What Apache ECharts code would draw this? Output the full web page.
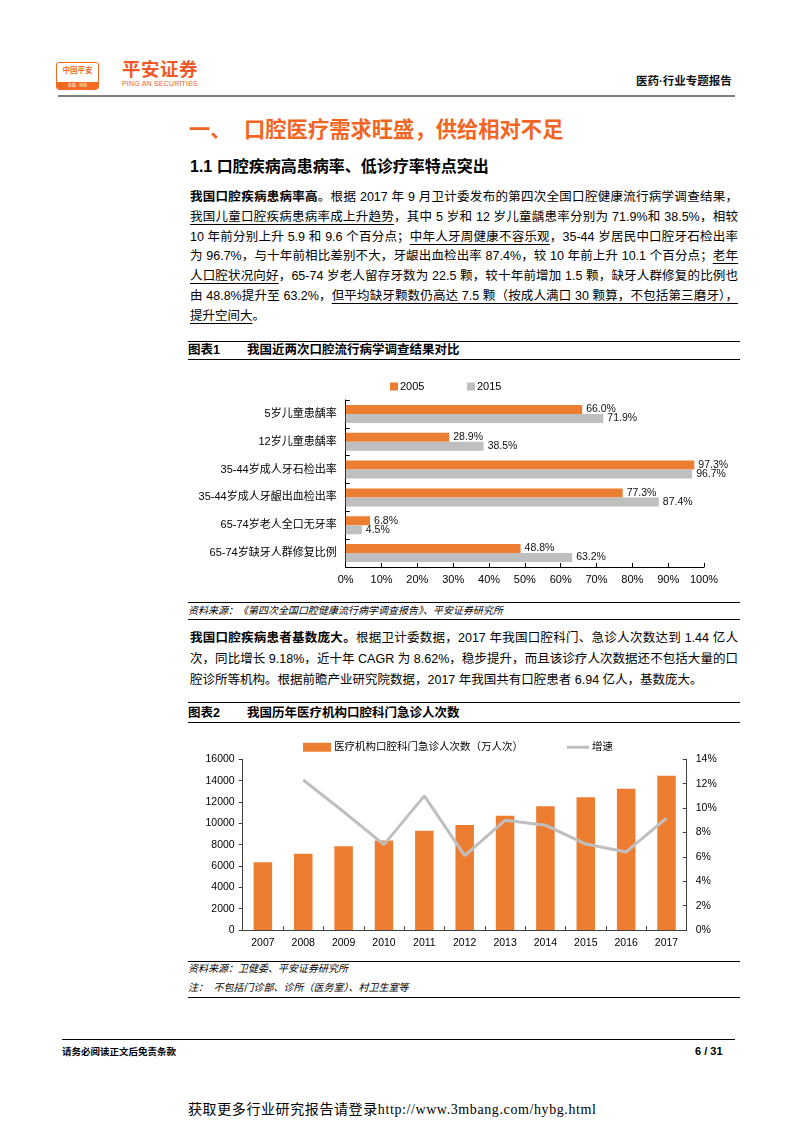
<!DOCTYPE html>
<html>
<head>
<meta charset="utf-8">
<script src="https://cdn.jsdelivr.net/npm/echarts@6/dist/echarts.min.js"></script>
<style>
  html,body{margin:0;padding:0;background:#fff;}
  body{width:793px;height:1122px;position:relative;overflow:hidden;
       font-family:"Liberation Sans","Noto Sans CJK SC",sans-serif;color:#000;}
  .abs{position:absolute;white-space:nowrap;}
  .hl{position:absolute;height:0;}
  .pl{position:absolute;left:190px;width:548px;height:20px;line-height:20px;font-size:12.5px;
      text-align:justify;text-align-last:justify;overflow:hidden;}
  .pl.last{text-align-last:left;}
  .pl u{text-decoration:underline;text-underline-offset:3px;text-decoration-thickness:1px;}
  .pl b{font-weight:700;}
  .figt{position:absolute;font-size:12.5px;font-weight:700;line-height:16px;}
  .src{position:absolute;left:188px;font-size:10px;font-style:italic;line-height:14px;}
</style>
</head>
<body>
<!-- header -->
<div class="abs" style="left:56px;top:62px;width:41px;height:26px;border:1.3px solid #F26B21;border-radius:3px;overflow:hidden;">
  <div style="position:absolute;left:0;top:3px;width:41px;text-align:center;font-size:7.5px;font-weight:700;color:#F26B21;line-height:10px;">中国平安</div>
  <div style="position:absolute;left:0;bottom:0;width:41px;height:7px;background:#F26B21;color:#fff;font-size:4px;line-height:7px;text-align:center;">金融 · 科技</div>
</div>
<div class="abs" style="left:122px;top:60px;font-size:18.5px;font-weight:700;color:#F05A28;line-height:20px;letter-spacing:0.5px;">平安证券</div>
<div class="abs" style="left:122px;top:80px;font-size:7px;color:#F05A28;line-height:8px;letter-spacing:0.2px;">PING AN SECURITIES</div>
<div class="abs" style="left:636px;top:73px;font-size:11.5px;font-weight:700;line-height:16px;color:#111;">医药·行业专题报告</div>
<div class="hl" style="left:58px;top:95px;width:677px;border-top:2px solid #7f7f7f;"></div>

<!-- section titles -->
<div class="abs" style="left:189px;top:118px;font-size:21.3px;font-weight:700;color:#F26522;line-height:24px;">一、</div>
<div class="abs" style="left:244px;top:118px;font-size:21.3px;font-weight:700;color:#F26522;line-height:24px;">口腔医疗需求旺盛，供给相对不足</div>
<div class="abs" style="left:190px;top:157px;font-size:16px;font-weight:700;line-height:20px;">1.1 口腔疾病高患病率、低诊疗率特点突出</div>

<!-- paragraph 1 -->
<div class="pl" style="top:187px;"><b>我国口腔疾病患病率高</b>。根据 2017 年 9 月卫计委发布的第四次全国口腔健康流行病学调查结果，</div>
<div class="pl" style="top:207px;"><u>我国儿童口腔疾病患病率成上升趋势</u>，其中 5 岁和 12 岁儿童龋患率分别为 71.9%和 38.5%，相较</div>
<div class="pl" style="top:227px;">10 年前分别上升 5.9 和 9.6 个百分点；<u>中年人牙周健康不容乐观</u>，35-44 岁居民中口腔牙石检出率</div>
<div class="pl" style="top:246px;">为 96.7%，与十年前相比差别不大，牙龈出血检出率 87.4%，较 10 年前上升 10.1 个百分点；<u>老年</u></div>
<div class="pl" style="top:266px;"><u>人口腔状况向好</u>，65-74 岁老人留存牙数为 22.5 颗，较十年前增加 1.5 颗，缺牙人群修复的比例也</div>
<div class="pl" style="top:286px;">由 48.8%提升至 63.2%，<u>但平均缺牙颗数仍高达 7.5 颗（按成人满口 30 颗算，不包括第三磨牙），</u></div>
<div class="pl last" style="top:306px;"><u>提升空间大</u>。</div>

<!-- figure 1 header -->
<div class="hl" style="left:188px;top:341px;width:552px;border-top:1px solid #000;"></div>
<div class="figt" style="left:188px;top:342px;">图表1</div>
<div class="figt" style="left:247px;top:342px;">我国近两次口腔流行病学调查结果对比</div>
<div class="hl" style="left:188px;top:359px;width:552px;border-top:1px solid #000;"></div>
<div id="c1" style="position:absolute;left:188px;top:365px;width:552px;height:235px;"></div>
<div class="hl" style="left:188px;top:602px;width:552px;border-top:1px solid #000;"></div>
<div class="src" style="top:604px;">资料来源：《第四次全国口腔健康流行病学调查报告》、平安证券研究所</div>
<div class="hl" style="left:188px;top:619px;width:552px;border-top:1px solid #000;"></div>

<!-- paragraph 2 -->
<div class="pl" style="top:628px;"><b>我国口腔疾病患者基数庞大。</b>根据卫计委数据，2017 年我国口腔科门、急诊人次数达到 1.44 亿人</div>
<div class="pl" style="top:649px;">次，同比增长 9.18%，近十年 CAGR 为 8.62%，稳步提升，而且该诊疗人次数据还不包括大量的口</div>
<div class="pl last" style="top:670px;">腔诊所等机构。根据前瞻产业研究院数据，2017 年我国共有口腔患者 6.94 亿人，基数庞大。</div>

<!-- figure 2 header -->
<div class="hl" style="left:188px;top:702px;width:552px;border-top:1px solid #000;"></div>
<div class="figt" style="left:188px;top:705px;">图表2</div>
<div class="figt" style="left:247px;top:705px;">我国历年医疗机构口腔科门急诊人次数</div>
<div class="hl" style="left:188px;top:722px;width:552px;border-top:1px solid #000;"></div>
<div id="c2" style="position:absolute;left:188px;top:728px;width:552px;height:230px;"></div>
<div class="hl" style="left:188px;top:961px;width:552px;border-top:1px solid #000;"></div>
<div class="src" style="top:962px;">资料来源：卫健委、平安证券研究所</div>
<div class="src" style="top:981px;">注：&nbsp; 不包括门诊部、诊所（医务室）、村卫生室等</div>
<div class="hl" style="left:188px;top:997px;width:552px;border-top:1px solid #000;"></div>

<!-- footer -->
<div class="hl" style="left:62px;top:1039px;width:673px;border-top:1.5px solid #000;"></div>
<div class="abs" style="left:62px;top:1045px;font-size:9.5px;font-weight:700;line-height:13px;">请务必阅读正文后免责条款</div>
<div class="abs" style="left:695px;top:1044px;font-size:11px;font-weight:700;line-height:14px;">6 / 31</div>
<div class="abs" style="left:188px;top:1101px;font-size:14px;line-height:18px;font-family:'Liberation Serif','Noto Sans CJK SC',serif;letter-spacing:0.6px;">获取更多行业研究报告请登录http://www.3mbang.com/hybg.html</div>

<script>
// ---------- data ----------
const surveyCats = ['5岁儿童患龋率','12岁儿童患龋率','35-44岁成人牙石检出率','35-44岁成人牙龈出血检出率','65-74岁老人全口无牙率','65-74岁缺牙人群修复比例'];
const survey2005 = [66.0, 28.9, 97.3, 77.3, 6.8, 48.8];
const survey2015 = [71.9, 38.5, 96.7, 87.4, 4.5, 63.2];
const surveySeriesNames = ['2005', '2015'];

const years = ['2007','2008','2009','2010','2011','2012','2013','2014','2015','2016','2017'];
const visits = [6350, 7150, 7850, 8400, 9300, 9850, 10700, 11600, 12450, 13250, 14450];
const growth = [null, 12.3, 9.7, 7.0, 11.0, 6.1, 9.0, 8.6, 7.05, 6.4, 9.18];
const visitSeriesNames = ['医疗机构口腔科门急诊人次数（万人次）', '增速'];

const ORANGE = '#ED7D31', GRAY = '#BFBFBF';
const FONT = '"Liberation Sans","Noto Sans CJK SC",sans-serif';

// ---------- chart 1 ----------
const c1 = echarts.init(document.getElementById('c1'), null, {renderer:'canvas'});
c1.setOption({
  animation:false,
  textStyle:{fontFamily:FONT},
  legend:[
    {data:[surveySeriesNames[0]], left:197, top:11, itemWidth:8, itemHeight:8, icon:'rect',
     textStyle:{fontSize:11, color:'#000', padding:[0,0,0,-3]}},
    {data:[surveySeriesNames[1]], left:274, top:11, itemWidth:8, itemHeight:8, icon:'rect',
     textStyle:{fontSize:11, color:'#000', padding:[0,0,0,-3]}}
  ],
  grid:{left:157.7, top:35, width:358.3, height:167, containLabel:false},
  xAxis:{type:'value', min:0, max:100, interval:10,
    axisLine:{show:true, lineStyle:{color:'#000', width:1}},
    axisTick:{show:true, inside:true, length:4, lineStyle:{color:'#000'}},
    splitLine:{show:false},
    axisLabel:{formatter:'{value}%', fontSize:11, color:'#000', margin:7}},
  yAxis:{type:'category', data:surveyCats, inverse:true,
    axisLine:{show:true, lineStyle:{color:'#000', width:1}},
    axisTick:{show:true, inside:true, length:4, lineStyle:{color:'#000'}},
    axisLabel:{fontSize:11, color:'#000', margin:9}},
  series:[
    {name:surveySeriesNames[0], type:'bar', data:survey2005, barWidth:9, barGap:'0%',
     itemStyle:{color:ORANGE},
     label:{show:true, position:'right', distance:4, fontSize:10.5, color:'#111',
            formatter:p=>p.value.toFixed(1)+'%'}},
    {name:surveySeriesNames[1], type:'bar', data:survey2015, barWidth:9,
     itemStyle:{color:GRAY},
     label:{show:true, position:'right', distance:4, fontSize:10.5, color:'#111',
            formatter:p=>p.value.toFixed(1)+'%'}}
  ]
});

// ---------- chart 2 ----------
const c2 = echarts.init(document.getElementById('c2'), null, {renderer:'canvas'});
c2.setOption({
  animation:false,
  textStyle:{fontFamily:FONT},
  legend:[
    {data:[visitSeriesNames[0]], left:110, top:9, itemWidth:28, itemHeight:9, icon:'rect',
     textStyle:{fontSize:10.5, color:'#000', padding:[0,0,0,-2]}},
    {data:[visitSeriesNames[1]], left:374, top:9, itemWidth:22, itemHeight:3, icon:'rect',
     itemStyle:{color:GRAY},
     textStyle:{fontSize:10.5, color:'#000', padding:[0,0,0,-2]}}
  ],
  grid:{left:54.7, top:31.3, width:444, height:170.7, containLabel:false},
  xAxis:{type:'category', data:years,
    axisLine:{show:true, lineStyle:{color:'#404040', width:1}},
    axisTick:{show:true, inside:true, length:4, lineStyle:{color:'#404040'}},
    axisLabel:{fontSize:10.5, color:'#000', margin:8}},
  yAxis:[
    {type:'value', min:0, max:16000, interval:2000,
     axisLine:{show:true, lineStyle:{color:'#404040'}},
     axisTick:{show:true, inside:false, length:4, lineStyle:{color:'#404040'}},
     splitLine:{show:false},
     axisLabel:{fontSize:10.5, color:'#000', margin:8, formatter:v=>String(v)}},
    {type:'value', min:0, max:14, interval:2, position:'right',
     axisLine:{show:true, lineStyle:{color:'#404040'}},
     axisTick:{show:true, inside:true, length:4, lineStyle:{color:'#404040'}},
     splitLine:{show:false},
     axisLabel:{fontSize:10.5, color:'#000', margin:9, formatter:'{value}%'}}
  ],
  series:[
    {name:visitSeriesNames[0], type:'bar', data:visits, barWidth:18.5, itemStyle:{color:ORANGE}},
    {name:visitSeriesNames[1], type:'line', yAxisIndex:1, data:growth, symbol:'none',
     lineStyle:{color:GRAY, width:3}, itemStyle:{color:GRAY}}
  ]
});
</script>
</body>
</html>
